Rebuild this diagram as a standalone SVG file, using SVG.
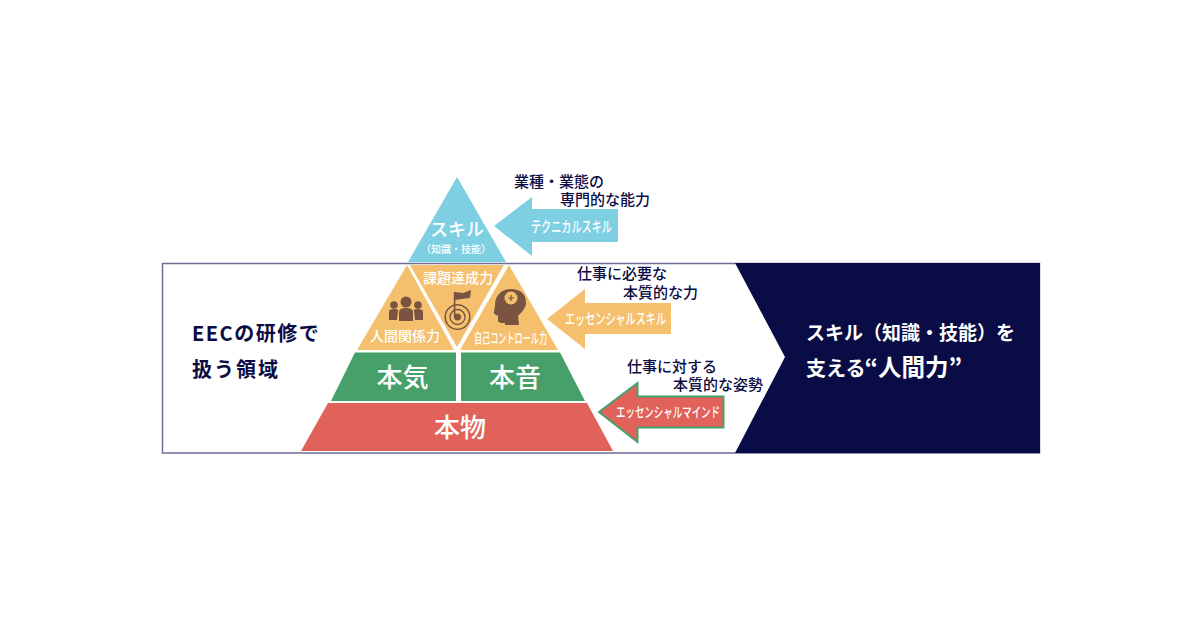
<svg xmlns="http://www.w3.org/2000/svg" width="1200" height="628" viewBox="0 0 1200 628">
<style>
text{font-family:"Noto Sans CJK JP","Noto Sans",sans-serif;font-weight:700}
.n{fill:#0b0c44;font-size:15px;font-weight:500}
.w{fill:#fff}
.m{fill:#fff;font-weight:500;font-size:14px}
.b{fill:#0b0c44;font-size:20px}
.ico{fill:#7a5440}
</style>
<rect width="1200" height="628" fill="#fff"/>
<g id="frame">
<rect x="162.500" y="263.500" width="877" height="189.500" fill="#fff" stroke="#6e6e96" stroke-width="1.500"/>
<polygon points="735,263 785,357 735,453 1040,453 1040,263" fill="#0a0c45"/>
</g>
<g id="scope-label">
<text class="b" x="192" y="341" letter-spacing="1.500">EECの研修で</text>
<text class="b" x="192" y="377" letter-spacing="2">扱う領域</text>
</g>
<g id="human-power-label">
<text class="w" x="806" y="340" font-size="19">スキル（知識・技能）を</text>
<text class="w" x="806" y="376" font-size="20">支える<tspan font-size="23.500" dx="-1">“人間力”</tspan></text>
</g>
<g id="skill">
<polygon points="457,177 506,262 408,262" fill="#7ecfe2"/>
<text class="w" x="457" y="236" font-size="18" text-anchor="middle" style="font-weight:500">スキル</text>
<text class="w" x="456" y="253" font-size="10" text-anchor="middle" style="font-weight:500">（知識・技能）</text>
</g>
<g id="human-relations">
<polygon points="407,265 454,350 357,350" fill="#f5c06e"/>
<g class="ico">
<circle cx="406" cy="302" r="5.500"/><circle cx="394" cy="305" r="3.800"/><circle cx="418" cy="305" r="3.800"/>
<path d="M399 321v-9q0-4 7-4t7 4v9z"/>
<path d="M389 320v-8q0-3 5-3t4 2l-1 9z"/>
<path d="M423 320v-8q0-3-5-3t-4 2l1 9z"/>
</g>
<text class="m" x="405" y="341" text-anchor="middle">人間関係力</text>
</g>
<g id="problem-solving">
<polygon points="410,265 504,265 457,347" fill="#f5c06e"/>
<text class="m" x="458" y="283" text-anchor="middle">課題達成力</text>
<g class="ico">
<path d="M455 292l8 1 8-3-1 8-8 1-7 1z"/>
<rect x="453.800" y="292" width="1.600" height="25"/>
<circle cx="457.500" cy="317" r="3.500"/>
</g>
<circle cx="457.500" cy="317" r="7.500" fill="none" stroke="#7a5440" stroke-width="1.300"/>
<circle cx="457.500" cy="317" r="12.300" fill="none" stroke="#7a5440" stroke-width="1.500"/>
</g>
<g id="self-control">
<polygon points="509,265 558,350 460,350" fill="#f5c06e"/>
<path class="ico" d="M511 289c-10 0-16 7-16 16 0 2-1 6-1 7-1 3 4 3 4 4v4c0 3 2 3 5 3l2 0v2h14l-1-9c4-4 8-8 8-14 0-8-6-13-15-13z"/>
<circle cx="511" cy="298" r="6.500" fill="#f5c06e"/>
<path class="ico" d="M510.400 295h1.200v2.400h2.400v1.200h-2.400v2.400h-1.200v-2.400h-2.400v-1.200h2.400z"/>
<text class="m" x="474" y="343" textLength="73" lengthAdjust="spacingAndGlyphs" style="font-size:14px">自己コントロール力</text>
</g>
<g id="honki">
<polygon points="355,352.500 456,352.500 456,401 331,401" fill="#479f69"/>
<text class="w" x="402.500" y="386.500" font-size="26" text-anchor="middle" style="font-weight:500">本気</text>
</g>
<g id="honne">
<polygon points="461,352.500 560,352.500 585,401 461,401" fill="#479f69"/>
<text class="w" x="515" y="386.500" font-size="26" text-anchor="middle" style="font-weight:500">本音</text>
</g>
<g id="honmono">
<polygon points="328,403 587,403 613,451 301,451" fill="#e0625a"/>
<text class="w" x="460" y="436.500" font-size="26" text-anchor="middle" style="font-weight:500">本物</text>
</g>
<g id="connectors">
<polygon points="494,226 532,197 532,209 618,209 618,242 532,242 532,256" fill="#7ecfe2"/>
<polygon points="547,319 585,289 585,303 671,303 671,334 585,334 585,349" fill="#f5c06e"/>
<polygon points="599,412 637.500,383 637.500,396.500 723.500,396.500 723.500,427.500 637.500,427.500 637.500,442" fill="#e0625a" stroke="#479f69" stroke-width="2"/>
</g>
<g id="technical-skill">
<text class="n" x="514" y="187">業種・業態の</text>
<text class="n" x="560" y="205">専門的な能力</text>
<text class="w" x="531" y="232" textLength="81" lengthAdjust="spacingAndGlyphs" style="font-size:15px;font-weight:500">テクニカルスキル</text>
</g>
<g id="essential-skill">
<text class="n" x="577" y="279">仕事に必要な</text>
<text class="n" x="623" y="298">本質的な力</text>
<text class="w" x="565" y="324" textLength="101" lengthAdjust="spacingAndGlyphs" style="font-size:15px;font-weight:500">エッセンシャルスキル</text>
</g>
<g id="essential-mind">
<text class="n" x="627" y="372">仕事に対する</text>
<text class="n" x="673" y="390">本質的な姿勢</text>
<text class="w" x="616" y="417" textLength="104" lengthAdjust="spacingAndGlyphs" style="font-size:14px;font-weight:500">エッセンシャルマインド</text>
</g>
</svg>
